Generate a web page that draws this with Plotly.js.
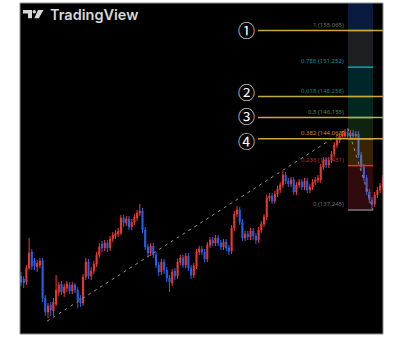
<!DOCTYPE html>
<html><head><meta charset="utf-8">
<script src="https://cdn.plot.ly/plotly-3.0.1.min.js"></script>
<style>html,body{margin:0;padding:0;background:#fff;}#chart{width:405px;height:338px;}</style>
</head><body><div id="chart"></div>
<script>
const openP = [131.22,130.95,130.68,131.93,133.38,132.57,132.02,132.20,132.57,129.27,128.05,128.66,128.13,128.74,129.80,130.51,129.71,130.15,130.42,129.88,
130.42,129.97,129.27,128.83,131.13,132.48,131.22,131.67,132.29,133.11,134.11,133.74,134.20,133.74,134.56,134.84,135.02,135.12,136.50,136.04,
136.41,135.67,136.13,136.50,136.97,137.15,135.39,133.83,133.29,133.92,133.11,132.20,131.58,132.48,131.76,131.04,130.60,131.67,131.22,132.48,
132.84,132.20,133.02,131.93,131.31,132.11,133.38,133.65,133.38,132.75,134.01,134.47,134.20,134.66,134.20,133.83,134.29,133.74,133.47,135.58,
136.87,137.25,136.13,134.66,135.02,134.75,135.30,134.84,134.47,135.39,135.94,136.59,138.37,138.56,138.09,138.75,139.13,139.60,140.55,139.98,
139.70,140.08,138.94,139.60,139.89,139.41,139.98,139.13,139.41,139.89,140.08,140.08,141.32,141.99,141.51,141.99,142.57,143.45,143.94,144.33,
144.33,144.72,144.33,144.63,144.33,144.53,142.48,141.32,140.27,138.94,138.18,137.81,138.65,139.13,139.51];
const closeP = [130.68,130.60,131.93,133.29,132.11,132.11,132.38,132.57,129.27,128.05,128.57,128.22,128.92,129.97,130.42,129.80,130.24,130.51,129.88,130.42,
129.97,129.09,128.83,131.13,132.48,131.22,131.67,132.29,133.11,133.83,133.74,134.20,133.74,134.56,134.93,135.12,135.30,136.50,136.04,136.41,
135.67,136.13,136.59,136.97,137.15,135.39,133.83,133.29,133.92,133.11,132.20,131.58,132.48,131.76,131.04,130.68,131.58,131.22,132.48,132.84,
132.20,133.02,131.93,131.31,132.11,133.38,133.65,133.38,132.75,134.01,134.47,134.20,134.66,134.20,133.83,134.29,133.74,133.47,135.58,136.87,
137.25,136.13,134.66,135.02,134.75,135.30,134.84,134.47,135.39,135.94,136.59,138.37,138.56,138.09,138.75,139.22,139.60,140.55,139.98,139.70,
140.08,138.94,139.60,139.89,139.41,139.98,139.13,139.41,139.89,140.08,140.27,141.32,141.99,141.51,141.99,142.57,143.45,143.94,144.33,144.53,
144.72,144.33,144.63,144.33,144.53,142.48,141.32,140.27,138.94,138.18,137.81,138.65,139.13,139.51,140.27];
const highP = [131.58,131.22,132.20,134.66,133.65,132.84,132.66,132.84,132.84,129.53,128.83,128.92,129.27,131.31,130.68,130.77,130.51,130.77,130.68,130.68,
130.60,130.24,129.53,131.40,132.84,132.75,132.02,132.57,133.38,134.20,134.38,134.47,134.47,134.84,135.21,135.39,135.58,136.78,136.78,136.69,
136.69,136.41,136.87,137.25,137.81,137.43,135.67,134.11,134.20,134.20,133.38,132.48,132.75,132.75,132.02,131.31,131.84,131.93,132.75,133.11,
133.11,133.29,133.29,132.20,132.38,133.65,133.92,133.92,133.65,134.29,134.75,134.75,134.93,134.93,134.47,134.56,134.56,134.01,135.85,137.15,
137.62,137.53,136.41,135.30,135.30,135.58,135.58,135.12,135.67,136.22,136.87,138.65,138.84,138.84,139.03,139.51,139.89,140.94,140.84,140.27,
140.36,140.36,139.89,140.17,140.17,140.27,140.27,139.70,140.17,140.36,140.55,141.61,142.28,142.28,142.28,142.86,143.74,144.23,144.63,144.82,
145.02,145.07,144.92,144.92,144.82,144.82,142.77,141.61,140.55,139.22,138.46,138.94,139.41,139.79,140.55];
const lowP = [130.33,130.15,130.42,131.76,131.76,131.76,131.58,131.93,128.92,127.70,127.52,127.70,127.70,128.57,129.44,129.53,129.36,129.80,129.62,129.62,
129.71,128.39,128.48,128.57,130.86,130.95,130.86,131.40,132.02,132.84,133.38,133.47,133.38,133.47,134.29,134.56,134.75,134.93,135.67,135.76,
135.39,135.39,135.85,136.22,136.69,135.12,133.56,132.93,133.02,132.84,131.93,131.22,131.31,131.40,130.68,129.80,130.33,130.86,130.95,132.20,
131.93,131.93,131.67,130.95,131.04,131.84,133.11,133.11,132.48,132.48,133.74,133.92,133.92,133.92,133.56,133.56,133.47,133.11,133.20,135.30,
136.59,135.85,134.38,134.38,134.47,134.47,134.47,134.11,134.20,135.12,135.67,136.31,138.09,137.81,137.81,138.46,138.84,139.32,139.70,139.41,
139.41,138.65,138.65,139.32,139.13,139.13,138.84,138.84,139.13,139.60,139.79,139.79,141.03,141.22,141.22,141.70,142.28,143.16,143.65,144.04,
144.04,144.04,144.04,144.04,144.14,142.19,141.03,139.98,138.65,137.90,137.34,137.53,138.37,138.84,139.22];
const candleIndex = openP.map((_, i) => i);

// Trend-based Fibonacci extension (3 anchor points: candle index, price)
const trendX = [9.6, 121.1, 130.4];
const trendY = [127.245, 145.065, 137.245];
const fibRatios = [1, 0.786, 0.618, 0.5, 0.382, 0.236, 0];
const fibPrices = [155.065, 151.252, 148.258, 146.155, 144.063, 141.451, 137.245];
const fibLabels = ["1 (155.065)", "0.786 (151.252)", "0.618 (148.258)", "0.5 (146.155)", "0.382 (144.063)", "0.236 (141.451)", "0 (137.245)"];
const fibLineColors = ["#787b86", "#00a6b8", "#089981", "#4caf50", "#ff9800", "#d9323b", "#787b86"];
const fibLabelColors = ["#6f727c", "#0e93a8", "#0f8a73", "#3f9a45", "#d98a10", "#b8333a", "#6f727c"];
const fibBandColors = ["rgba(41,98,255,0.25)", "rgba(120,123,134,0.25)", "rgba(0,151,167,0.25)", "rgba(8,153,129,0.25)", "rgba(76,175,80,0.2)", "rgba(255,165,0,0.22)", "rgba(242,54,69,0.2)"];
const fibTopPrice = 162;

// Highlighted levels with circled numbers
const markLabels = ["①", "②", "③", "④"];
const markPrices = [155.065, 148.258, 146.155, 144.063];
const markShift = [1, 5, 2, -2];
const markStartX = 87.8;
const markLabelX = 83.6;

const RED = "#ec3b30", BLUE = "#2563f0", GOLD = "#c8aa3c";
const xRange = [-0.37, 134.07];
const yRange = [2.100868, 2.198652];

const traces = [];
for (let k = 0; k < fibPrices.length; k++) {
  const top = k === 0 ? fibTopPrice : fibPrices[k - 1];
  const bot = fibPrices[k];
  traces.push({type: 'scatter', mode: 'lines', x: [trendX[1], trendX[2], trendX[2], trendX[1], trendX[1]],
    y: [top, top, bot, bot, top], fill: 'toself', fillcolor: fibBandColors[k], line: {width: 0}, hoverinfo: 'skip', showlegend: false});
}
traces.push({type: 'candlestick', x: candleIndex, open: openP, high: highP, low: lowP, close: closeP,
  increasing: {line: {color: RED, width: 1}, fillcolor: RED},
  decreasing: {line: {color: BLUE, width: 1}, fillcolor: BLUE},
  whiskerwidth: 0, hoverinfo: 'skip', showlegend: false});
for (let k = 0; k < fibPrices.length; k++) {
  traces.push({type: 'scatter', mode: 'lines', x: [trendX[1], trendX[2]], y: [fibPrices[k], fibPrices[k]],
    line: {color: fibLineColors[k], width: 1.5}, hoverinfo: 'skip', showlegend: false});
}
traces.push({type: 'scatter', mode: 'lines', x: trendX, y: trendY, line: {color: '#8f8f8f', width: 1, dash: '3px,4px'}, hoverinfo: 'skip', showlegend: false});
for (let k = 0; k < markPrices.length; k++) {
  traces.push({type: 'scatter', mode: 'lines', x: [markStartX, xRange[1]], y: [markPrices[k], markPrices[k]],
    line: {color: GOLD, width: 1.5}, hoverinfo: 'skip', showlegend: false});
}

const annotations = [];
for (let k = 0; k < fibPrices.length; k++) {
  annotations.push({x: trendX[1] - 0.6, y: Math.log10(fibPrices[k]), xref: 'x', yref: 'y', xanchor: 'right', yanchor: 'bottom', yshift: 0,
    text: fibLabels[k], showarrow: false, font: {family: 'Noto Sans', size: 6, color: fibLabelColors[k]}});
}
for (let k = 0; k < markLabels.length; k++) {
  annotations.push({x: markLabelX, y: Math.log10(markPrices[k]), xref: 'x', yref: 'y', xanchor: 'center', yanchor: 'middle', yshift: markShift[k],
    text: markLabels[k], showarrow: false, font: {family: 'Noto Sans CJK JP', size: 17, color: '#ffffff'}});
}
annotations.push({x: 0.0771, y: 0.966, xref: 'paper', yref: 'paper', xanchor: 'left', yanchor: 'middle', text: 'TradingView', showarrow: false,
  font: {family: 'Inter', size: 14.5, weight: 600, color: '#d8d8d8'}});

const P = (px, py) => ((px - 20) / 363).toFixed(4) + ',' + ((334 - py) / 331).toFixed(4);
const shapes = [
  {type: 'rect', xref: 'paper', yref: 'paper', x0: 0, x1: 1, y0: 0, y1: 1, line: {color: '#8c8c8c', width: 1}, layer: 'above'},
  {type: 'path', xref: 'paper', yref: 'paper', path: 'M' + P(23,10) + 'L' + P(32,10) + 'L' + P(32,18.3) + 'L' + P(28,18.3) + 'L' + P(28,13.5) + 'L' + P(23,13.5) + 'Z', fillcolor: '#d8d8d8', line: {width: 0}},
  {type: 'circle', xref: 'paper', yref: 'paper', x0: (32.6-20)/363, x1: (36-20)/363, y0: (334-13.4)/331, y1: (334-10)/331, fillcolor: '#d8d8d8', line: {width: 0}},
  {type: 'path', xref: 'paper', yref: 'paper', path: 'M' + P(38,10) + 'L' + P(43.5,10) + 'L' + P(38.8,18.3) + 'L' + P(34.3,18.3) + 'Z', fillcolor: '#d8d8d8', line: {width: 0}}
];

const layout = {
  width: 405, height: 338,
  margin: {l: 20, r: 22, t: 3, b: 4},
  paper_bgcolor: '#ffffff', plot_bgcolor: '#000000',
  showlegend: false, boxgap: 0.45,
  xaxis: {range: xRange, visible: false, rangeslider: {visible: false}, fixedrange: true},
  yaxis: {type: 'log', range: yRange, visible: false, fixedrange: true},
  annotations: annotations, shapes: shapes
};
Plotly.newPlot('chart', traces, layout, {staticPlot: true, displayModeBar: false});
</script></body></html>
